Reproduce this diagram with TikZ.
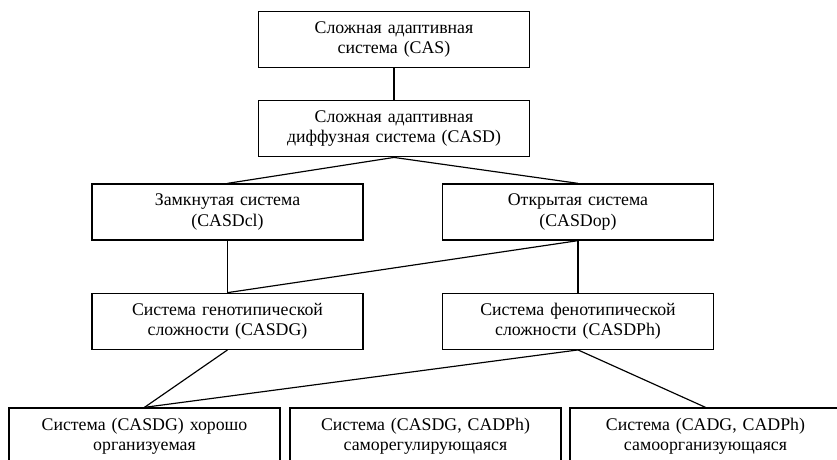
\documentclass[tikz,border=0pt]{standalone}
\usepackage{fontspec}
\setmainfont{Liberation Serif}
\usetikzlibrary{positioning}

\begin{document}
\begin{tikzpicture}[
    font=\fontsize{15.2}{17.4}\selectfont,
    box/.style={draw, line width=1.1pt, minimum width=8.13cm, minimum height=1.68cm,
                text width=7.8cm, align=center, inner sep=2pt},
    link/.style={line width=1pt},
]
\useasboundingbox (-11.82,1.185) rectangle (13.29,-12.615);
\clip (-11.82,1.185) rectangle (13.29,-12.615);

% ── Top levels ───────────────────────────────────────────────
\node[box] (cas) at (0,0) {Сложная адаптивная\\система (CAS)};
\node[box, below=0.96cm of cas] (casd) {Сложная адаптивная\\диффузная система (CASD)};

\draw[link] (cas.south) -- (casd.north);

% ── Closed / open ────────────────────────────────────────────
\node[box] (closed) at (-4.995,-5.175) {Замкнутая система\\(CASDcl)};
\node[box] (open) at (5.52,-5.175) {Открытая система\\(CASDop)};

\draw[link] (casd.south) -- (closed.north);
\draw[link] (casd.south) -- (open.north);

% ── Complexity ───────────────────────────────────────────────
\node[box, below=1.56cm of closed] (geno) {Система генотипической\\сложности (CASDG)};
\node[box, below=1.56cm of open] (pheno) {Система фенотипической\\сложности (CASDPh)};

\draw[link] (closed.south) -- (geno.north);
\draw[link] (open.south) -- (geno.north);
\draw[link] (open.south) -- (pheno.north);

% ── Bottom row ───────────────────────────────────────────────
\node[box] (orgd) at (-7.485,-11.895) {Система (CASDG) хорошо\\организуемая};
\node[box] (sreg) at (0.945,-11.895) {Система (CASDG, CADPh)\\саморегулирующаяся};
\node[box] (sorg) at (9.345,-11.895) {Система (CADG, CADPh)\\самоорганизующаяся};

\draw[link] (geno.south) -- (orgd.north);
\draw[link] (pheno.south) -- (orgd.north);
\draw[link] (pheno.south) -- (sorg.north);

\end{tikzpicture}
\end{document}
